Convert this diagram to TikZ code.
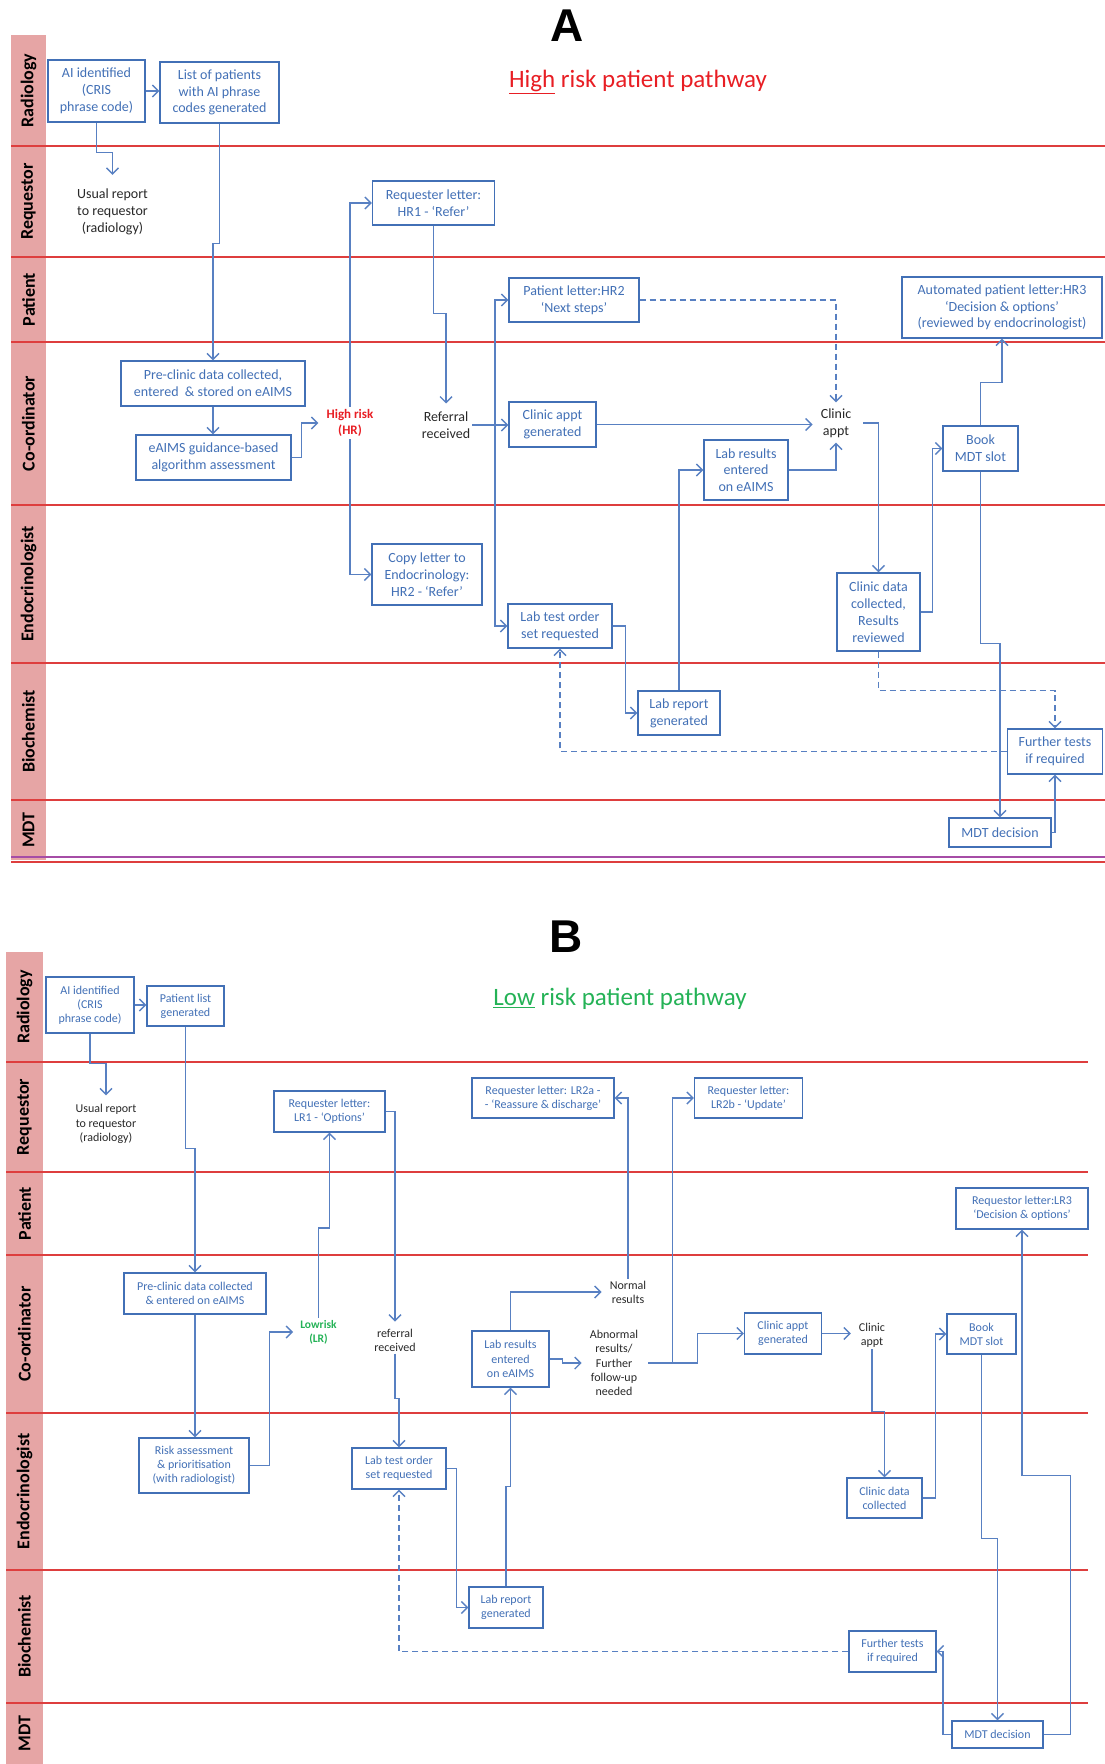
\documentclass[tikz,border=0pt]{standalone}
\usepackage{fontspec}
\setmainfont{Carlito}
\newfontfamily\panelfont{Liberation Sans}
\usepackage{tikz}
\usetikzlibrary{positioning}
\usetikzlibrary{arrows.meta}

\definecolor{boxblue}{RGB}{66,112,182}
\definecolor{lineblue}{RGB}{88,128,194}
\definecolor{lanered}{RGB}{222,62,62}
\definecolor{lanepink}{RGB}{230,165,165}
\definecolor{hrred}{RGB}{232,30,36}
\definecolor{lrgreen}{RGB}{36,178,86}
\definecolor{darktext}{RGB}{40,40,40}

\begin{document}
\begin{tikzpicture}[x=1pt,y=-1pt,
    >={Straight Barb[length=6pt,width=12pt]},
    proc/.style={draw=boxblue, line width=1.4pt, fill=white, text=boxblue, align=center, inner sep=1pt, font=\fontsize{14}{16.8}\selectfont},
    procsm/.style={proc, font=\fontsize{12}{14.2}\selectfont},
    note/.style={text=darktext, align=center, inner sep=2pt, font=\fontsize{14}{16.8}\selectfont},
    notesm/.style={note, font=\fontsize{12}{14.2}\selectfont},
    flow/.style={->, draw=lineblue, line width=1.4pt},
    dflow/.style={flow, dash pattern=on 6pt off 4pt},
    lane/.style={draw=lanered, line width=2.6pt},
    lanename/.style={rotate=90, font=\bfseries\fontsize{18}{20}\selectfont}]
    \useasboundingbox (0,0) rectangle (1105,1764);

    % ---------------- Panel A ----------------
    \node[font=\panelfont\bfseries\fontsize{46}{50}\selectfont] (panelA) at (567,26) {A};
    \node[font=\fontsize{25}{30}\selectfont, text=hrred] (titleA) at (638,82) {\underline{High} risk patient pathway};

    % Lanes
    \fill[lanepink] (11,35) rectangle (46,860);
    \foreach \y in {146,257,342,505,663,800}
        \draw[lane] (11,\y) -- (1105,\y);
    \draw[draw=violet!70, line width=1.5pt] (11,857) -- (1105,857);
    \draw[lane] (11,862) -- (1105,862);
    \foreach \y/\name [count=\i] in {90.5/Radiology, 201.5/Requestor, 299.5/Patient, 423.5/Co-ordinator, 584/Endocrinologist, 731.5/Biochemist, 830/MDT}
        \node[lanename] (laneA\i) at (28.5,\y) {\name};

    % Steps
    \node[proc, minimum width=97, minimum height=62] (aiA) at (96.5,91) {AI identified\\(CRIS\\phrase code)};
    \node[proc, minimum width=119, minimum height=61] (listA) at (219.5,92.5) {List of patients\\with AI phrase\\codes generated};
    \node[note] (usualA) at (112.5,212) {Usual report\\to requestor\\(radiology)};
    \node[proc, minimum width=122, minimum height=44] (hr1A) at (433.5,203) {Requester letter:\\HR1 - `Refer'};
    \node[proc, minimum width=130, minimum height=44] (ptA) at (574,300) {Patient letter:HR2\\`Next steps'};
    \node[proc, minimum width=200, minimum height=61] (autoA) at (1002,307.5) {Automated patient letter:HR3\\`Decision \& options'\\(reviewed by endocrinologist)};
    \node[proc, minimum width=184, minimum height=45] (preA) at (213,383.5) {Pre-clinic data collected,\\entered \ \& stored on eAIMS};
    \node[proc, minimum width=155, minimum height=45] (algoA) at (213.5,457.5) {eAIMS guidance-based\\algorithm assessment};
    \node[note, text=hrred, font=\bfseries\fontsize{13}{16.8}\selectfont] (hrA) at (350,423) {High risk\\(HR)};
    \node[note] (refA) at (446,425) {Referral\\received};
    \node[proc, minimum width=87, minimum height=45] (clinA) at (552.5,424.5) {Clinic appt\\generated};
    \node[note] (apptA) at (836,423) {Clinic\\appt};
    \node[proc, minimum width=84, minimum height=60] (labresA) at (746,470) {Lab results\\entered\\on eAIMS};
    \node[proc, minimum width=75, minimum height=45] (bookA) at (980.5,448.5) {Book\\MDT slot};
    \node[proc, minimum width=110, minimum height=61] (copyA) at (427,574.5) {Copy letter to\\Endocrinology:\\HR2 - `Refer'};
    \node[proc, minimum width=104, minimum height=44] (labtestA) at (560,626) {Lab test order\\set requested};
    \node[proc, minimum width=83, minimum height=78] (cdataA) at (878.5,612) {Clinic data\\collected,\\Results\\reviewed};
    \node[proc, minimum width=82, minimum height=44] (labrepA) at (679,713) {Lab report\\generated};
    \node[proc, minimum width=95, minimum height=45] (furtherA) at (1055,751.5) {Further tests\\if required};
    \node[proc, minimum width=102, minimum height=29] (mdtA) at (1000,832.5) {MDT decision};
    \coordinate (splitA) at (495,424.5);

    % Connectors
    \draw[flow] (aiA.east) -- (aiA.east -| listA.west);
    \draw[flow] (aiA.south) -- ++(0,30) -| ([yshift=12pt]usualA.north);
    \draw[flow] (listA.south) -- ++(0,120) -| (preA.north);
    \draw[flow] (preA.south) -- (preA.south |- algoA.north);
    \draw[flow] (algoA.east) -- ++(10,0) |- ([xshift=-6pt]hrA.west);
    \draw[flow] (hrA.north) |- (hr1A.west);
    \draw[flow] (hrA.south) |- (copyA.west);
    \draw[flow] (hr1A.south) -- ++(0,88) -| ([yshift=6pt]refA.north);
    \draw[flow] (refA.east) -- (refA.east -| clinA.west);
    \draw[flow] (splitA) |- (ptA.west);
    \draw[flow] (splitA) |- (labtestA.west);
    \draw[dflow] (ptA.east) -| ([yshift=4pt]apptA.north);
    \draw[flow] (clinA.east) -- ([xshift=-6pt]clinA.east -| apptA.west);
    \draw[flow] (labresA.east) -| ([yshift=-3pt]apptA.south);
    \draw[flow] ([xshift=10pt]apptA.east) -| (cdataA.north);
    \draw[flow] (labtestA.east) -- ++(13,0) |- (labrepA.west);
    \draw[flow] (labrepA.north) |- (labresA.west);
    \draw[flow] (cdataA.east) -- ++(12,0) |- (bookA.west);
    \draw[flow] (bookA.north) -- ++(0,-43) -| (autoA.south);
    \draw[flow] (bookA.south) -- ++(0,172) -| (mdtA.north);
    \draw[flow] (mdtA.east) -| (furtherA.south);
    \draw[dflow] (cdataA.south) -- ++(0,39) -| (furtherA.north);
    \draw[dflow] (furtherA.west) -| (labtestA.south);

    % ---------------- Panel B ----------------
    \node[font=\panelfont\bfseries\fontsize{46}{50}\selectfont] (panelB) at (566,937) {B};
    \node[font=\fontsize{25}{30}\selectfont, text=lrgreen] (titleB) at (620,999) {\underline{Low} risk patient pathway};

    % Lanes
    \fill[lanepink] (6,952) rectangle (43,1764);
    \foreach \y in {1062,1172,1255,1413,1570,1703}
        \draw[lane] (6,\y) -- (1088,\y);
    \foreach \y/\name [count=\i] in {1007/Radiology, 1117/Requestor, 1213.5/Patient, 1334/Co-ordinator, 1491.5/Endocrinologist, 1636.5/Biochemist, 1733.5/MDT}
        \node[lanename] (laneB\i) at (24.5,\y) {\name};

    % Steps
    \node[procsm, minimum width=88, minimum height=56] (aiB) at (90,1005) {AI identified\\(CRIS\\phrase code)};
    \node[procsm, minimum width=77, minimum height=40] (listB) at (185.5,1006) {Patient list\\generated};
    \node[notesm] (usualB) at (106,1124) {Usual report\\to requestor\\(radiology)};
    \node[procsm, minimum width=111, minimum height=41] (lr1B) at (329.5,1111.5) {Requester letter:\\LR1 - `Options'};
    \node[procsm, minimum width=142, minimum height=40] (lr2aB) at (543,1098) {Requester letter: LR2a -\\- `Reassure \& discharge'};
    \node[procsm, minimum width=108, minimum height=40] (lr2bB) at (748.5,1098) {Requester letter:\\LR2b - `Update'};
    \node[procsm, minimum width=132, minimum height=41] (lr3B) at (1022,1208.5) {Requestor letter:LR3\\`Decision \& options'};
    \node[procsm, minimum width=142, minimum height=41] (preB) at (195,1293.5) {Pre-clinic data collected\\\& entered on eAIMS};
    \node[notesm, text=lrgreen, font=\bfseries\fontsize{11.5}{14.2}\selectfont] (lrB) at (318.5,1332) {Lowrisk\\(LR)};
    \node[notesm] (refB) at (395,1340) {referral\\received};
    \node[procsm, minimum width=77, minimum height=56] (labresB) at (510.5,1359) {Lab results\\entered\\on eAIMS};
    \node[notesm] (normB) at (628,1292) {Normal\\results};
    \node[notesm] (abnB) at (614,1363) {Abnormal\\results/\\Further\\follow-up\\needed};
    \node[procsm, minimum width=77, minimum height=41] (clinB) at (783,1333.5) {Clinic appt\\generated};
    \node[notesm] (apptB) at (872,1335) {Clinic\\appt};
    \node[procsm, minimum width=69, minimum height=40] (bookB) at (981.5,1334) {Book\\MDT slot};
    \node[procsm, minimum width=110, minimum height=55] (riskB) at (194,1465.5) {Risk assessment\\\& prioritisation\\(with radiologist)};
    \node[procsm, minimum width=94, minimum height=41] (labtestB) at (399,1468.5) {Lab test order\\set requested};
    \node[procsm, minimum width=75, minimum height=40] (cdataB) at (884.5,1498) {Clinic data\\collected};
    \node[procsm, minimum width=74, minimum height=41] (labrepB) at (506,1607.5) {Lab report\\generated};
    \node[procsm, minimum width=87, minimum height=41] (furtherB) at (892.5,1651.5) {Further tests\\if required};
    \node[procsm, minimum width=91, minimum height=27] (mdtB) at (997.5,1734.5) {MDT decision};
    \coordinate (splitB) at (672.5,1363);

    % Connectors
    \draw[flow] (aiB.east) -- (aiB.east -| listB.west);
    \draw[flow] (aiB.south) -- ++(0,30) -| ([yshift=7pt]usualB.north);
    \draw[flow] (listB.south) -- ++(0,122) -| (preB.north);
    \draw[flow] (preB.south) -- (preB.south |- riskB.north);
    \draw[flow] (riskB.east) -- ++(20,0) |- ([xshift=-5pt]lrB.west);
    \draw[flow] (lrB.north) -- ++(0,-90) -| (lr1B.south);
    \draw[flow] (lr1B.east) -| ([yshift=5pt]refB.north);
    \draw[flow] (refB.south) -- ++(0,45) -| (labtestB.north);
    \draw[flow] (labtestB.east) -- ++(10,0) |- (labrepB.west);
    \draw[flow] (labrepB.north) -- ++(0,-100) -| (labresB.south);
    \draw[flow] (labresB.north) |- ([xshift=-6pt]normB.west);
    \draw[flow] (normB.north) |- (lr2aB.east);
    \draw[flow] (labresB.east) -- ++(13,0) |- ([xshift=-6pt]abnB.west);
    \draw[flow] ([xshift=8pt]abnB.east) -- (splitB) |- (lr2bB.west);
    \draw[flow] (splitB) -- ++(25,0) |- (clinB.west);
    \draw[flow] (clinB.east) -- ([xshift=-6pt]clinB.east -| apptB.west);
    \draw[flow] (apptB.south) -- ++(0,62) -| (cdataB.north);
    \draw[flow] (cdataB.east) -- ++(13,0) |- (bookB.west);
    \draw[flow] (bookB.south) -- ++(0,184) -| (mdtB.north);
    \draw[flow] (mdtB.east) -- ++(27,0) -- ++(0,-259) -| (lr3B.south);
    \draw[flow] (mdtB.west) -- ++(-8.5,0) |- (furtherB.east);
    \draw[dflow] (furtherB.west) -| (labtestB.south);
\end{tikzpicture}
\end{document}
